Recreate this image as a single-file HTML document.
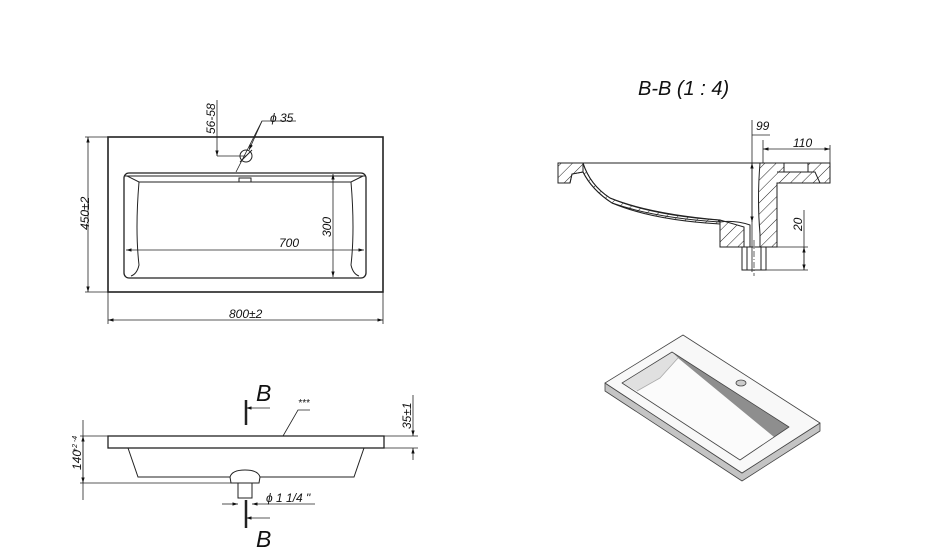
<!DOCTYPE html>
<html><head><meta charset="utf-8"><style>
html,body{margin:0;padding:0;background:#fff;}
svg{display:block;}
text{font-family:"Liberation Sans",sans-serif;font-style:italic;fill:#111;}
</style></head><body>
<svg width="930" height="552" viewBox="0 0 930 552" xmlns="http://www.w3.org/2000/svg">
<defs>
<marker id="a" viewBox="0 0 10 10" refX="10" refY="5" markerWidth="7" markerHeight="7" orient="auto-start-reverse"><path d="M0,2 L10,5 L0,8 z" fill="#111"/></marker>
<pattern id="h" width="8" height="8" patternUnits="userSpaceOnUse" patternTransform="rotate(45)"><line x1="0" y1="0" x2="0" y2="8" stroke="#222" stroke-width="1"/></pattern>
</defs>
<g fill="none" stroke="#222" stroke-width="1">
<rect x="108" y="137" width="275" height="155" stroke-width="1.6"/>
<rect x="124" y="173" width="242" height="105" rx="5" stroke-width="1.3"/>
<line x1="124" y1="176" x2="366" y2="176"/>
<path d="M127,176 L139,182 L351,182 L363,176"/>
<path d="M139,182 Q135,230 139,265 Q137,274 131,276"/>
<path d="M351,182 Q355,230 351,265 Q353,274 359,276"/>
<rect x="239" y="178" width="12" height="4"/>
<circle cx="246" cy="156" r="6"/>
<line x1="240" y1="162" x2="252" y2="150"/>
<line x1="217" y1="100" x2="217" y2="156" stroke-width="0.8" marker-end="url(#a)"/>
<line x1="217" y1="156" x2="246" y2="156" stroke-width="0.8"/>
<polyline points="236,172 262,121 296,121" stroke-width="0.8"/>
<line x1="262" y1="121" x2="249" y2="150" stroke-width="0.8" marker-end="url(#a)"/>
<line x1="85" y1="137" x2="108" y2="137" stroke-width="0.8"/>
<line x1="85" y1="292" x2="108" y2="292" stroke-width="0.8"/>
<line x1="88" y1="137" x2="88" y2="292" stroke-width="0.8" marker-start="url(#a)" marker-end="url(#a)"/>
<line x1="108" y1="292" x2="108" y2="324" stroke-width="0.8"/>
<line x1="383" y1="292" x2="383" y2="324" stroke-width="0.8"/>
<line x1="108" y1="320" x2="383" y2="320" stroke-width="0.8" marker-start="url(#a)" marker-end="url(#a)"/>
<line x1="126" y1="250" x2="364" y2="250" stroke-width="0.8" marker-start="url(#a)" marker-end="url(#a)"/>
<line x1="333" y1="174" x2="333" y2="277" stroke-width="0.8" marker-start="url(#a)" marker-end="url(#a)"/>

<line x1="558" y1="163" x2="830" y2="163"/>
<path d="M558,163 L583,163 Q590,185 610,198 Q650,215 718,220 L720,222 L720,247 L750,247 L750,225 Q735,220 720,222"/>
<path d="M558,163 L558,183 L570,183 L572,174 L583,172 Q592,190 612,203 Q655,218 720,222"/>
<path d="M558,163 L583,163 L583,172 L572,174 L570,183 L558,183 Z" fill="url(#h)"/>
<path d="M583,163 Q590,185 610,198 Q650,214 720,220 L720,224 Q652,220 612,203 Q592,190 583,172 Z" fill="url(#h)"/>
<path d="M720,220 L744,227 L744,247 L720,247 Z" fill="url(#h)"/>
<path d="M760,163 L830,163 L830,183 L777,183 L777,247 L760,247 L760,234 Q757,200 760,163 Z" fill="url(#h)"/>
<rect x="784" y="163" width="24" height="9" fill="#fff"/>
<path d="M777,172 L815,172 L820,183"/>
<rect x="742" y="247" width="24" height="23" fill="#fff"/>
<line x1="747" y1="247" x2="747" y2="270"/>
<line x1="761" y1="247" x2="761" y2="270"/>
<line x1="754" y1="240" x2="754" y2="276" stroke-dasharray="6,2,1,2" stroke-width="0.7"/>
<line x1="752" y1="120" x2="752" y2="272" stroke-width="0.8"/>
<line x1="752" y1="135" x2="770" y2="135" stroke-width="0.8"/>
<line x1="752" y1="163" x2="752" y2="222" stroke-width="0.8" marker-start="url(#a)" marker-end="url(#a)"/>
<line x1="763" y1="140" x2="763" y2="163" stroke-width="0.8"/>
<line x1="830" y1="145" x2="830" y2="163" stroke-width="0.8"/>
<line x1="763" y1="149" x2="830" y2="149" stroke-width="0.8" marker-start="url(#a)" marker-end="url(#a)"/>
<line x1="777" y1="247" x2="808" y2="247" stroke-width="0.8"/>
<line x1="766" y1="270" x2="808" y2="270" stroke-width="0.8"/>
<line x1="804" y1="210" x2="804" y2="270" stroke-width="0.8"/>
<line x1="804" y1="247" x2="804" y2="270" stroke-width="0.8" marker-start="url(#a)" marker-end="url(#a)"/>

<rect x="108" y="436" width="276" height="12" stroke-width="1.3"/>
<path d="M128,448 L138,477 L230,477 Q232,470 245,470 Q258,470 260,477 L354,477 L364,448"/>
<path d="M230,477 L231,483 L259,483 L260,477"/>
<rect x="238" y="483" width="14" height="15"/>
<line x1="246" y1="400" x2="246" y2="425" stroke-width="2.5"/>
<line x1="246" y1="408" x2="270" y2="408" stroke-width="0.8" marker-start="url(#a)"/>
<line x1="246" y1="500" x2="246" y2="528" stroke-width="2.5"/>
<line x1="246" y1="518" x2="270" y2="518" stroke-width="0.8" marker-start="url(#a)"/>
<polyline points="283,436 298,410 310,410" stroke-width="0.8"/>
<line x1="80" y1="436" x2="108" y2="436" stroke-width="0.8"/>
<line x1="80" y1="483" x2="231" y2="483" stroke-width="0.8"/>
<line x1="83" y1="420" x2="83" y2="500" stroke-width="0.8"/>
<line x1="83" y1="436" x2="83" y2="483" stroke-width="0.8" marker-start="url(#a)" marker-end="url(#a)"/>
<line x1="384" y1="436" x2="418" y2="436" stroke-width="0.8"/>
<line x1="384" y1="448" x2="418" y2="448" stroke-width="0.8"/>
<line x1="413" y1="395" x2="413" y2="436" stroke-width="0.8" marker-end="url(#a)"/>
<line x1="413" y1="460" x2="413" y2="448" stroke-width="0.8" marker-end="url(#a)"/>
<line x1="222" y1="504" x2="238" y2="504" stroke-width="0.8" marker-end="url(#a)"/>
<line x1="315" y1="504" x2="252" y2="504" stroke-width="0.8" marker-end="url(#a)"/>
</g>

<!-- 3D VIEW -->
<g stroke-linejoin="round">
<path d="M605,383 L605,391 L742,481 L820,431 L820,423 L742,473 Z" fill="#c4c4c4" stroke="#444" stroke-width="0.8"/>
<path d="M605,383 L683,335 L820,423 L742,473 Z" fill="#f8f8f8" stroke="#444" stroke-width="0.8"/>
<path d="M622,383 L672,352 L789,427 L740,460 Z" fill="#fbfbfb"/>
<path d="M672,352 L789,427 L774,437 L678,358 Z" fill="#8e8e8e"/>
<path d="M622,383 L672,352 L678,358 L660,378 L637,391 Z" fill="#e0e0e0"/>
<path d="M678,358 L660,378 L637,391" fill="none" stroke="#aaa" stroke-width="0.8"/>
<path d="M622,383 L672,352 L789,427 L740,460 Z" fill="none" stroke="#444" stroke-width="0.8"/>
<ellipse cx="741" cy="383" rx="5" ry="3" fill="#ccc" stroke="#444" stroke-width="0.8"/>
</g>

<text x="638" y="95" font-size="20">B-B (1 : 4)</text>
<text x="270" y="122" font-size="12">ϕ 35</text>
<text transform="translate(215,134) rotate(-90)" font-size="12">56-58</text>
<text transform="translate(89,230) rotate(-90)" font-size="12">450±2</text>
<text x="229" y="318" font-size="12">800±2</text>
<text x="279" y="247" font-size="12">700</text>
<text transform="translate(331,237) rotate(-90)" font-size="12">300</text>
<text x="756" y="130" font-size="12">99</text>
<text x="793" y="147" font-size="12">110</text>
<text transform="translate(802,231) rotate(-90)" font-size="12">20</text>
<text x="256" y="401" font-size="23">B</text>
<text x="256" y="547" font-size="23">B</text>
<text x="298" y="406" font-size="10">***</text>
<text transform="translate(411,429) rotate(-90)" font-size="12">35±1</text>
<text transform="translate(81,470) rotate(-90)" font-size="12">140</text>
<text transform="translate(77,452) rotate(-90)" font-size="7">+2 -4</text>
<text x="266" y="502" font-size="12">ϕ 1 1/4 "</text>
</svg>
</body></html>
